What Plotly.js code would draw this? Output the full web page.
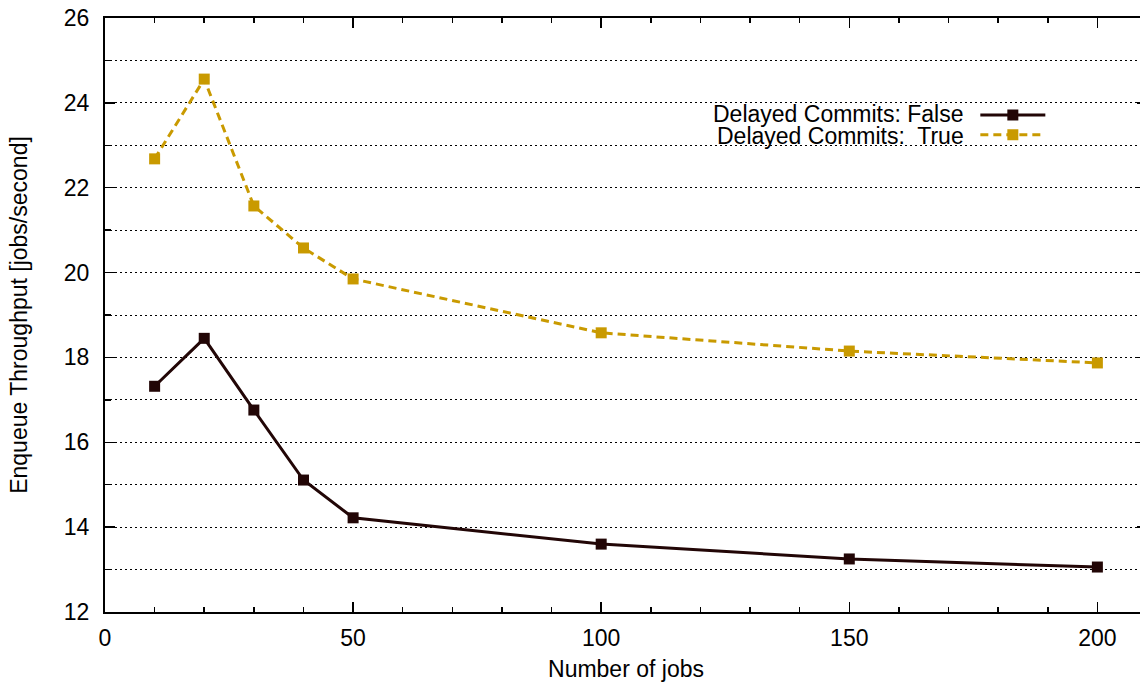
<!DOCTYPE html>
<html>
<head>
<meta charset="utf-8">
<script src="https://cdn.plot.ly/plotly-3.0.1.min.js"></script>
<style>
html, body { margin: 0; padding: 0; overflow: hidden; background: #fff; }
#chart { width: 1150px; height: 682px; }
</style>
</head>
<body>
<div id="chart"></div>
<script>
const jobs = [10, 20, 30, 40, 50, 100, 150, 200];
const delayedFalse = [17.32, 18.45, 16.76, 15.11, 14.22, 13.60, 13.25, 13.06];
const delayedTrue = [22.68, 24.56, 21.57, 20.58, 19.85, 18.58, 18.15, 17.87];
const seriesLabels = ['Delayed Commits: False', 'Delayed Commits:\u00a0 True'];
const xTitle = 'Number of jobs';
const yTitle = 'Enqueue Throughput [jobs/second]';

const FONT = 'Liberation Sans, Arial, sans-serif';
const FS = 23;
const darkColor = '#220606';
const goldColor = '#c99a00';

const traces = [
  {
    x: jobs, y: delayedFalse, mode: 'lines+markers', name: ' ',
    line: {color: darkColor, width: 3},
    marker: {symbol: 'square', size: 11, color: darkColor}
  },
  {
    x: jobs, y: delayedTrue, mode: 'lines+markers', name: ' ',
    line: {color: goldColor, width: 3, dash: '8px,5px'},
    marker: {symbol: 'square', size: 11, color: goldColor}
  }
];

const layout = {
  width: 1150, height: 682,
  margin: {l: 105, r: 3.4, t: 18, b: 70},
  paper_bgcolor: '#fff', plot_bgcolor: '#fff',
  font: {family: FONT, size: FS, color: '#000'},
  showlegend: true,
  legend: {
    bgcolor: 'rgba(0,0,0,0)',
    font: {family: FONT, size: 13}, itemwidth: 65, tracegroupgap: 0
  },
  xaxis: {
    range: [0, 210], dtick: 50, tick0: 0,
    ticks: 'inside', ticklen: 10, tickwidth: 1.5, tickcolor: '#000',
    showline: true, linecolor: '#000', linewidth: 2, mirror: 'ticks',
    showgrid: false, zeroline: false, ticklabelstandoff: 4,
    minor: {dtick: 10, ticks: 'inside', ticklen: 5, tickwidth: 1.5, tickcolor: '#000', showgrid: false},
    tickfont: {family: FONT, size: FS},
    title: {text: xTitle, font: {family: FONT, size: FS}, standoff: 15}
  },
  yaxis: {
    range: [12, 26], dtick: 2, tick0: 12,
    ticks: 'inside', ticklen: 10, tickwidth: 1.5, tickcolor: '#000',
    showline: true, linecolor: '#000', linewidth: 2, mirror: 'ticks',
    showgrid: true, gridcolor: '#000', gridwidth: 1, griddash: '1.5px,3.5px',
    zeroline: false, ticklabelstandoff: 9,
    minor: {dtick: 1, ticks: 'inside', ticklen: 6, tickwidth: 1.5, tickcolor: '#000',
            showgrid: true, gridcolor: '#000', gridwidth: 1, griddash: '1.5px,3.5px'},
    tickfont: {family: FONT, size: FS},
    title: {text: yTitle, font: {family: FONT, size: FS}, standoff: 30}
  },
  shapes: [
    {type: 'rect', xref: 'x', yref: 'y', x0: 116, x1: 192, y0: 22.1, y1: 23.92,
     fillcolor: '#fff', line: {width: 0}, layer: 'below'}
  ],
  annotations: [
    {xref: 'x', yref: 'y', x: 173.5, y: 23.74, xanchor: 'right', yanchor: 'middle',
     text: seriesLabels[0], showarrow: false, font: {family: FONT, size: FS}},
    {xref: 'x', yref: 'y', x: 173.5, y: 23.22, xanchor: 'right', yanchor: 'middle',
     text: seriesLabels[1], showarrow: false, font: {family: FONT, size: FS}}
  ]
};
layout.legend.x = (975 - 105) / 1041.6;
layout.legend.xanchor = 'left';
layout.legend.y = 1 - (100 - 18) / 594;
layout.legend.yanchor = 'top';

Plotly.newPlot('chart', traces, layout, {displayModeBar: false, staticPlot: true});
</script>
</body>
</html>
